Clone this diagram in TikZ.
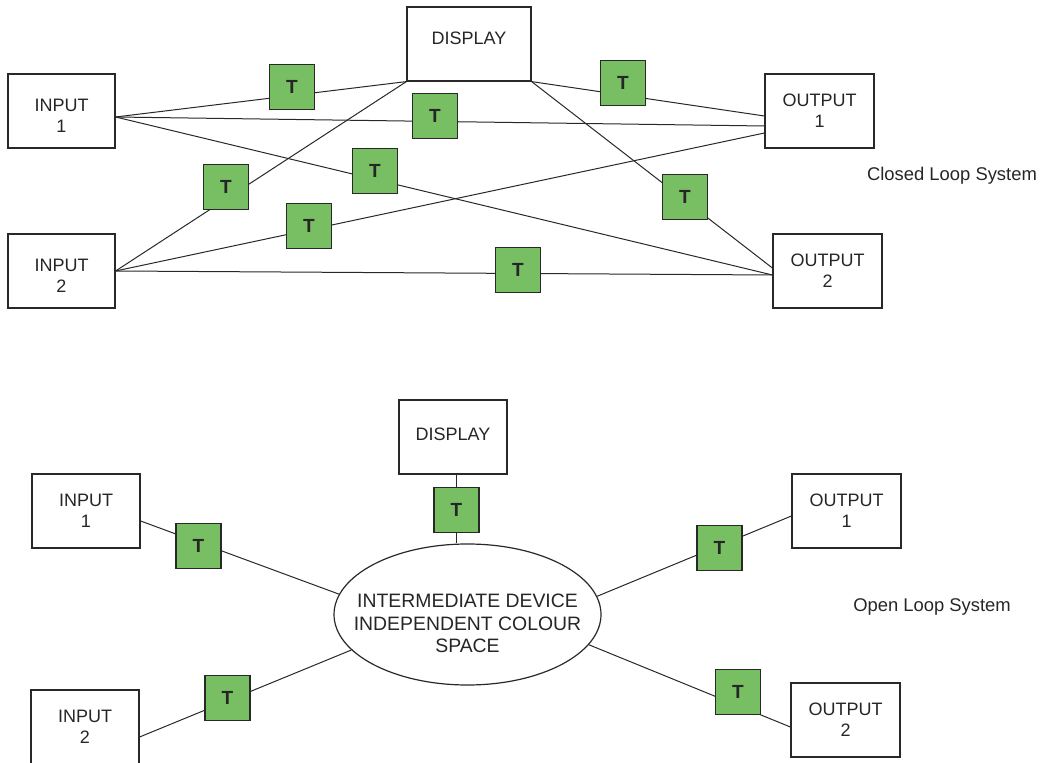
\documentclass[tikz,border=0pt]{standalone}
\usepackage{fontspec}
\setmainfont{Liberation Sans}
\usetikzlibrary{shapes.geometric}
\definecolor{tgreen}{RGB}{120,190,98}
\definecolor{edge}{RGB}{40,40,40}
\tikzset{
unit/.style={draw=edge, line width=0.6pt, fill=white, align=center, inner sep=0pt, minimum height=37pt},
tbox/.style={draw=edge, line width=0.6pt, fill=tgreen, minimum size=22.5pt, inner sep=0pt, font=\fontsize{9.5}{11}\selectfont\bfseries},
link/.style={draw=edge, line width=0.5pt}
}
\begin{document}
\begin{tikzpicture}[x=0.5pt,y=-0.5pt,font=\fontsize{9}{10.5}\selectfont,text=black!85]
\useasboundingbox (0,0) rectangle (1054,763);
\node [unit, minimum width=53.5pt] (in1) at (61.5,111) {\rule{0pt}{11pt}INPUT\\1};
\node [unit, minimum width=53.5pt] (in2) at (61.5,271) {\rule{0pt}{11pt}INPUT\\2};
\node [unit, minimum width=62pt, text depth=6pt] (disp) at (469,44) {DISPLAY};
\node [unit, minimum width=54.5pt] (out1) at (819.5,111) {OUTPUT\\1};
\node [unit, minimum width=54.5pt] (out2) at (827.5,271) {OUTPUT\\2};
\node [font=\fontsize{9.2}{11}\selectfont] (closed) at (952,176) {Closed Loop System};
\draw [link] ([yshift=-3pt]in1.east) -- (disp.south west);
\draw [link] ([yshift=-3pt]in1.east) -- ([yshift=-7.5pt]out1.west);
\draw [link] ([yshift=-3pt]in1.east) -- ([yshift=-2pt]out2.west);
\draw [link] (in2.east) -- (disp.south west);
\draw [link] (in2.east) -- ([yshift=-11pt]out1.west);
\draw [link] (in2.east) -- ([yshift=-2pt]out2.west);
\draw [link] (disp.south east) -- ([yshift=-2.5pt]out1.west);
\draw [link] (disp.south east) -- ([yshift=1.5pt]out2.west);
\node [tbox] (t1) at (292,87) {T};
\node [tbox] (t2) at (435,116) {T};
\node [tbox] (t3) at (375,171) {T};
\node [tbox] (t4) at (226,187) {T};
\node [tbox] (t5) at (309,226) {T};
\node [tbox] (t6) at (518,270) {T};
\node [tbox] (t7) at (623,83) {T};
\node [tbox] (t8) at (685,197) {T};
\node [unit, minimum width=54pt, text depth=3pt] (disp2) at (453,437) {DISPLAY};
\node [draw=edge, line width=0.6pt, ellipse, minimum width=133.5pt, minimum height=70.5pt] (ell) at (467.5,614.5) {};
\node [align=center, font=\fontsize{9.7}{11.25}\selectfont, yshift=-4.5pt] (ellname) at (ell) {INTERMEDIATE DEVICE\\INDEPENDENT COLOUR\\SPACE};
\node [unit, minimum width=54pt] (in1b) at (86,511) {INPUT\\1};
\node [unit, minimum width=54pt] (in2b) at (85,727) {INPUT\\2};
\node [unit, minimum width=54.5pt] (out1b) at (846.5,511) {OUTPUT\\1};
\node [unit, minimum width=54.5pt] (out2b) at (845.5,720) {OUTPUT\\2};
\node [font=\fontsize{9.2}{11}\selectfont] (open) at (932,607) {Open Loop System};
\draw [link] (disp2.south -| 456.5,0) -- (ell.north -| 456.5,0);
\draw [link] ([yshift=-5pt]in1b.east) -- (ell.171);
\draw [link] ([yshift=-5pt]in2b.east) -- (ell.197);
\draw [link] ([yshift=-2.5pt]out1b.west) -- (ell.8);
\draw [link] ([yshift=-3.5pt]out2b.west) -- (ell.346);
\node [tbox] (tdisp) at (456.5,510) {T};
\node [tbox] (tin1) at (198.5,546) {T};
\node [tbox] (tin2) at (227.5,698) {T};
\node [tbox] (tout1) at (719.5,548) {T};
\node [tbox] (tout2) at (738,692) {T};
\end{tikzpicture}
\end{document}
